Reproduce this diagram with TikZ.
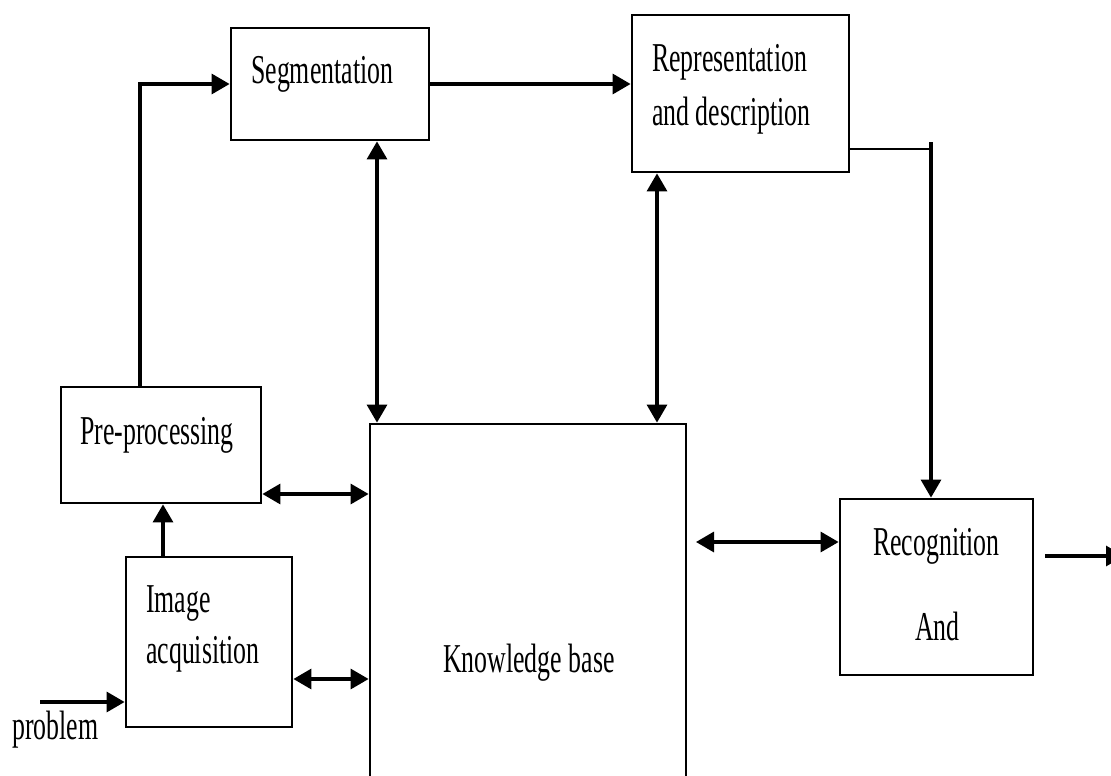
\documentclass[tikz,border=0pt]{standalone}
\usepackage{fontspec}
\setmainfont{Liberation Serif}
\usetikzlibrary{arrows.meta}
\newcommand{\sq}[1]{\scalebox{0.63}[1]{#1}}
\begin{document}
\begin{tikzpicture}[x=1pt,y=-1pt,
  box/.style={draw,line width=2.8pt,rectangle,inner sep=0pt},
  lbl/.style={anchor=base west,inner sep=0pt,font=\fontsize{41}{48}\selectfont},
  arr/.style={line width=3.2pt,-{Triangle[length=18pt,width=20pt]}},
  dbl/.style={line width=3.2pt,{Triangle[length=18pt,width=20pt]}-{Triangle[length=18pt,width=20pt]}},
  ln/.style={line width=2.8pt}]
\useasboundingbox (0,0) rectangle (1111,776);
% boxes
\node[box,minimum width=198pt,minimum height=112pt] (seg) at (330,84) {};
\node[box,minimum width=217pt,minimum height=157pt] (rep) at (740.5,93.5) {};
\node[box,minimum width=200pt,minimum height=116pt] (pre) at (161,445) {};
\node[box,minimum width=166pt,minimum height=170pt] (img) at (209,642) {};
\node[box,minimum width=316pt,minimum height=380pt] (kb) at (528,614) {};
\node[box,minimum width=193pt,minimum height=176pt] (rec) at (936.5,587) {};
% labels
\node[lbl] (tseg) at (251,83) {\sq{Segmentation}};
\node[lbl] (trep1) at (652,72) {\sq{Representation}};
\node[lbl] (trep2) at (652,125) {\sq{and description}};
\node[lbl] (tpre) at (80,444) {\sq{Pre-processing}};
\node[lbl] (timg1) at (146,612) {\sq{Image}};
\node[lbl] (timg2) at (146,663) {\sq{acquisition}};
\node[lbl] (tkb) at (443,672) {\sq{Knowledge base}};
\node[lbl] (trec1) at (873,555) {\sq{Recognition}};
\node[lbl] (trec2) at (915,640) {\sq{And}};
\node[lbl] (tprob) at (12,739) {\sq{problem}};
% connectors
\coordinate (p0) at ([xshift=-21pt]pre.north);
\draw[arr] (p0) |- (seg.west);
\draw[arr] (seg.east) -- (seg.east -| rep.west);
\coordinate (c1) at (931,149);
\coordinate (c1top) at (931,142);
\draw[ln] (c1 -| rep.east) -- (c1);
\draw[arr] (c1top) -- (c1top |- rec.north);
\coordinate (s1) at ([xshift=47pt]seg.south);
\draw[dbl] (s1) -- (s1 |- kb.north);
\coordinate (r1) at ([xshift=-83.5pt]rep.south);
\draw[dbl] (r1) -- (r1 |- kb.north);
\coordinate (pp1) at ([yshift=-49pt]pre.east);
\draw[dbl] (pp1) -- (pp1 -| kb.west);
\coordinate (i1) at ([yshift=-37pt]img.east);
\draw[dbl] (i1) -- (i1 -| kb.west);
\coordinate (i2) at ([xshift=-46pt]img.north);
\draw[arr] (i2) -- (i2 |- pre.south);
\coordinate (pb) at (40,702);
\draw[arr] (pb) -- (pb -| img.west);
\coordinate (k1) at (696,542);
\draw[dbl] (k1) -- (k1 -| rec.west);
\coordinate (o1) at (1045,556);
\coordinate (o2) at (1124,556);
\draw[arr] (o1) -- (o2);
\end{tikzpicture}
\end{document}
